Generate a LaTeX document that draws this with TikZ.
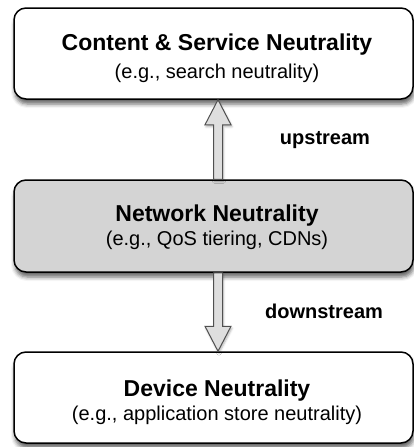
\documentclass[tikz,border=0pt]{standalone}
\usepackage{fontspec}
\setmainfont{Liberation Sans}
\usetikzlibrary{calc,shadows.blur}
\definecolor{midfill}{HTML}{D4D4D4}
\definecolor{arrfill}{HTML}{DEDEDE}
\definecolor{arrline}{HTML}{505050}
\tikzset{
  box/.style={draw=black, line width=1.5pt, rounded corners=12pt, fill=white,
    minimum width=399pt, minimum height=91pt, inner sep=0pt,
    blur shadow={shadow xshift=1pt, shadow yshift=-5pt, shadow blur radius=4pt, shadow opacity=60}},
  title/.style={anchor=base, font=\fontsize{23}{28}\selectfont\bfseries, inner sep=0pt},
  sub/.style={anchor=base, font=\fontsize{20}{24}\selectfont, inner sep=0pt},
  lab/.style={font=\fontsize{20}{24}\selectfont\bfseries, inner sep=0pt},
  blockarrow/.style={draw=arrline, line width=1pt, fill=arrfill, line join=miter,
    blur shadow={shadow xshift=1pt, shadow yshift=-2pt, shadow blur radius=2pt, shadow opacity=30}}
}
\begin{document}
\begin{tikzpicture}[x=1pt,y=-1pt]
\useasboundingbox (0,0) rectangle (414,447);
\node[box] (top) at (213.5,53.5) {};
\node[box, fill=midfill, minimum height=92pt] (mid) at (213.5,226) {};
\node[box] (bot) at (213.5,397.5) {};
\coordinate (ax) at (218,0);
% up arrow
\draw[blockarrow] let \p1=(ax |- mid.north), \p2=(ax |- top.south) in
  (\x1-4.5pt,\y1) -- (\x1-4.5pt,\y2-25pt) -- (\x1-13pt,\y2-25pt) -- (\x1,\y2)
  -- (\x1+13pt,\y2-25pt) -- (\x1+4.5pt,\y2-25pt) -- (\x1+4.5pt,\y1) -- cycle;
% down arrow
\draw[blockarrow] let \p1=(ax |- mid.south), \p2=(ax |- bot.north) in
  (\x1-4.5pt,\y1) -- (\x1-4.5pt,\y2+25pt) -- (\x1-13pt,\y2+25pt) -- (\x1,\y2)
  -- (\x1+13pt,\y2+25pt) -- (\x1+4.5pt,\y2+25pt) -- (\x1+4.5pt,\y1) -- cycle;
% texts
\node[title] (topT) at (217,50) {Content \& Service Neutrality};
\node[sub] (topS) at (217,78) {(e.g., search neutrality)};
\node[title] (midT) at (217,221) {Network Neutrality};
\node[sub] (midS) at (217,245) {(e.g., QoS tiering, CDNs)};
\node[title] (botT) at (217,396) {Device Neutrality};
\node[sub] (botS) at (217,420) {(e.g., application store neutrality)};
\node[lab] (up) at (325,140) {upstream};
\node[lab] (down) at (324,311) {downstream};
\end{tikzpicture}
\end{document}
